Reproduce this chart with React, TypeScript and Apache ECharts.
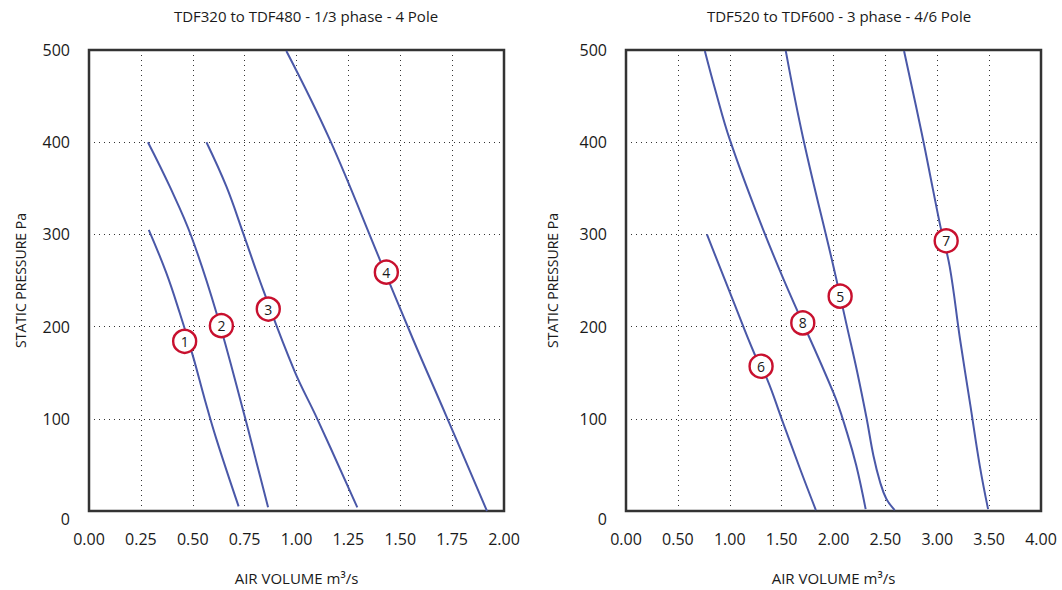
import React, { useEffect, useRef } from "react";
import * as echarts from "echarts";

const leftTitle = "TDF320 to TDF480 - 1/3 phase - 4 Pole";
const rightTitle = "TDF520 to TDF600 - 3 phase - 4/6 Pole";
const xName = "AIR VOLUME m³/s";
const yName = "STATIC PRESSURE Pa";

// Left chart curves [air volume m3/s, static pressure Pa]
const curve1 = [[0.288, 305], [0.373, 258], [0.437, 215], [0.501, 168], [0.558, 121], [0.614, 78], [0.721, 5]];
const curve2 = [[0.284, 400], [0.389, 352], [0.493, 298], [0.614, 215], [0.750, 103], [0.807, 53], [0.863, 4]];
const curve3 = [[0.566, 400], [0.662, 352], [0.742, 302], [0.839, 240], [0.99, 152], [1.10, 100], [1.293, 4]];
const curve4 = [[0.951, 499], [1.160, 403], [1.401, 273], [1.562, 186], [1.722, 103], [1.918, 0]];

// Right chart curves
const curve5 = [[1.54, 499], [1.71, 403], [2.0, 265], [2.13, 200], [2.23, 150], [2.32, 100], [2.385, 60], [2.45, 31], [2.51, 13], [2.59, 1]];
const curve6 = [[0.78, 300], [1.04, 226], [1.24, 170], [1.36, 143], [1.50, 100], [1.68, 45], [1.83, 1]];
const curve7 = [[2.68, 499], [2.85, 410], [2.96, 348], [3.03, 309], [3.12, 265], [3.22, 186], [3.32, 114], [3.41, 49], [3.49, 2]];
const curve8 = [[0.76, 499], [0.86, 457], [1.0, 403], [1.26, 323], [1.52, 251], [2.0, 128], [2.13, 85], [2.22, 49], [2.31, 2]];

// Curve number markers [x, y, label]
const leftMarkers = [[0.461, 184, "1"], [0.638, 201, "2"], [0.864, 219, "3"], [1.433, 259, "4"]];
const rightMarkers = [[2.064, 233, "5"], [1.302, 157, "6"], [3.086, 293, "7"], [1.704, 204, "8"]];

const leftXTicks = { min: 0, max: 2, interval: 0.25 };
const rightXTicks = { min: 0, max: 4, interval: 0.5 };
const yTicks = { min: 0, max: 500, interval: 100 };

const FONT = "'Open Sans', Lato, sans-serif";
const LINE_COLOR = "#4a58a8";
const RED = "#c8102e";
const TEXT = "#1a1a1a";

export default function App() {
  const ref = useRef<HTMLDivElement>(null);
  useEffect(() => {
    if (!ref.current) return;
    const chart = echarts.init(ref.current, undefined, { renderer: "svg" });

    const xAxisBase = (idx: number, t: any) => ({
      type: "value",
      gridIndex: idx,
      min: t.min,
      max: t.max,
      interval: t.interval,
      name: xName,
      nameLocation: "middle",
      nameGap: 59,
      nameTextStyle: { fontFamily: FONT, fontSize: 15, color: TEXT },
      axisLine: { show: false },
      axisTick: { show: false },
      axisLabel: {
        fontFamily: FONT,
        fontSize: 16,
        fontWeight: 500,
        color: TEXT,
        margin: 20,
        formatter: (v: number) => v.toFixed(2),
      },
      splitLine: { show: true, lineStyle: { type: [1, 4], color: "#333", width: 1 } },
    });
    const yAxisBase = (idx: number, gap: number) => ({
      type: "value",
      gridIndex: idx,
      min: yTicks.min,
      max: yTicks.max,
      interval: yTicks.interval,
      name: yName,
      nameLocation: "middle",
      nameGap: gap,
      nameRotate: 90,
      nameTextStyle: { fontFamily: FONT, fontSize: 14, color: TEXT },
      axisLine: { show: false },
      axisTick: { show: false },
      axisLabel: {
        fontFamily: FONT,
        fontSize: 16,
        fontWeight: 500,
        color: TEXT,
        margin: 19,
        formatter: (v: number) => (v === 0 ? "{z|0}" : String(v)),
        rich: {
          z: { fontFamily: FONT, fontSize: 16, fontWeight: 500, color: TEXT, padding: [16, 0, 0, 0] },
        },
      },
      splitLine: { show: true, lineStyle: { type: [1, 4], color: "#333", width: 1 } },
    });

    const lineSeries = (data: number[][], idx: number) => ({
      type: "line",
      xAxisIndex: idx,
      yAxisIndex: idx,
      data,
      smooth: 0.4,
      showSymbol: false,
      symbol: "none",
      lineStyle: { color: LINE_COLOR, width: 2 },
      z: 2,
    });
    const markerSeries = (data: any[], idx: number) => ({
      type: "scatter",
      xAxisIndex: idx,
      yAxisIndex: idx,
      data: data.map((d) => ({ value: [d[0], d[1]], name: d[2] })),
      symbol: "circle",
      symbolSize: 23,
      itemStyle: { color: "#fff", borderColor: RED, borderWidth: 2.4, opacity: 1 },
      label: {
        show: true,
        position: "inside",
        formatter: (p: any) => p.name,
        fontFamily: FONT,
        fontSize: 14,
        color: TEXT,
      },
      z: 5,
    });

    chart.setOption({
      animation: false,
      backgroundColor: "#fff",
      title: [
        {
          text: leftTitle,
          left: 301,
          top: 3,
          textAlign: "center",
          textStyle: { fontFamily: FONT, fontSize: 15, fontWeight: "normal", color: TEXT },
        },
        {
          text: rightTitle,
          left: 834,
          top: 3,
          textAlign: "center",
          textStyle: { fontFamily: FONT, fontSize: 15, fontWeight: "normal", color: TEXT },
        },
      ],
      grid: [
        { left: 89, top: 50, width: 415, height: 462, show: true, borderColor: "#333", borderWidth: 2.5, backgroundColor: "transparent" },
        { left: 626, top: 50, width: 415, height: 462, show: true, borderColor: "#333", borderWidth: 2.5, backgroundColor: "transparent" },
      ],
      xAxis: [xAxisBase(0, leftXTicks), xAxisBase(1, rightXTicks)],
      yAxis: [yAxisBase(0, 62), yAxisBase(1, 67)],
      series: [
        lineSeries(curve1, 0),
        lineSeries(curve2, 0),
        lineSeries(curve3, 0),
        lineSeries(curve4, 0),
        lineSeries(curve5, 1),
        lineSeries(curve6, 1),
        lineSeries(curve7, 1),
        lineSeries(curve8, 1),
        markerSeries(leftMarkers, 0),
        markerSeries(rightMarkers, 1),
      ],
    });
    return () => chart.dispose();
  }, []);

  return (
    <div
      ref={ref}
      style={{ position: "fixed", left: 0, top: 0, width: 1062, height: 590, background: "#fff" }}
    />
  );
}
